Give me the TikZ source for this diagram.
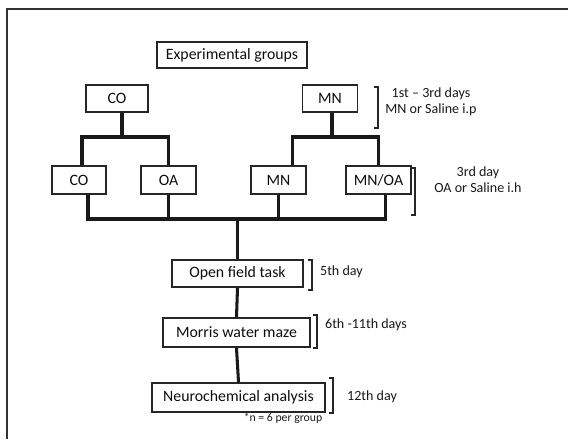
\documentclass[tikz,border=0pt]{standalone}
\usepackage{fontspec}
\setmainfont{Carlito}
\usepackage{xcolor}
\usepackage{tikz}
\usetikzlibrary{
    calc,
    positioning
}

\begin{document}
\begin{tikzpicture}[
    x=0.03cm, y=-0.03cm,
    box/.style={
        rectangle,
        draw=black!85,
        line width=1.6pt,
        inner sep=0pt,
        minimum height=0.82cm,
        font=\fontsize{13.5}{15}\selectfont,
        text=black!95
    },
    link/.style={line width=2.6pt, draw=black!90},
    brace/.style={line width=1.2pt, draw=black!85},
    note/.style={font=\fontsize{12}{13.5}\selectfont, text=black!90, align=center}
]

\useasboundingbox (0,0) rectangle (568,439);

% Frame
\draw[line width=1.7pt, black!80] (568,9) -- (7,9) -- (7,439);

% Title
\node[box, minimum width=4.5cm, minimum height=0.78cm] (groups) at (232,55) {Experimental groups};

% First treatment
\node[box, minimum width=1.86cm] (co1) at (117,98.5) {CO};
\node[box, minimum width=1.65cm] (mn1) at (330,98.5) {MN};

% Second treatment
\node[box, minimum width=1.62cm, minimum height=0.84cm] (coA) at (79,180) {CO};
\node[box, minimum width=1.65cm, minimum height=0.84cm] (oaA) at (168.5,180) {OA};
\node[box, minimum width=1.65cm, minimum height=0.84cm] (mnA) at (278.5,180) {MN};
\node[box, minimum width=1.95cm, minimum height=0.84cm] (mnoaA) at (378.5,180) {MN/OA};

% Tests
\node[box, minimum width=3.93cm] (open) at (237.5,273.5) {Open field task};
\node[box, minimum width=4.41cm, minimum height=0.87cm] (morris) at (236.5,332.5) {Morris water maze};
\node[box, minimum width=5.19cm, minimum height=0.87cm] (neuro) at (238.5,397.5) {Neurochemical analysis};

% Bars and line ends
\coordinate (bar1) at (0,137);
\coordinate (bar2) at (0,219);
\coordinate (co1out) at ($(co1.south)+(5,0)$);
\coordinate (mn1out) at ($(mn1.south)+(2,0)$);
\coordinate (coAin) at ($(coA.north)+(3,0)$);
\coordinate (mnAin) at ($(mnA.north)+(14,0)$);
\coordinate (coAout) at ($(coA.south)+(9,0)$);
\coordinate (mnoaAout) at ($(mnoaA.south)+(7,0)$);

% Tree lines
\draw[link] (co1out) -- (co1out |- bar1);
\draw[link] (coAin) -- (coAin |- bar1) -- (oaA.north |- bar1) -- (oaA.north);
\draw[link] (mn1out) -- (mn1out |- bar1);
\draw[link] (mnAin) -- (mnAin |- bar1) -- (mnoaA.north |- bar1) -- (mnoaA.north);
\draw[link] (coAout) -- (coAout |- bar2) -- (mnoaAout |- bar2) -- (mnoaAout);
\draw[link] (oaA.south) -- (oaA.south |- bar2);
\draw[link] (mnA.south) -- (mnA.south |- bar2);
\draw[link] (open.north |- bar2) -- (open.north);
\draw[link] (open.south) -- (morris.north);
\draw[link] (morris.south) -- (neuro.north);

% Brackets
\draw[brace] (374,87) -- (378,87) -- (378,128) -- (374,128);
\draw[brace] (411,168) -- (415,168) -- (415,215) -- (411,215);
\draw[brace] (308,260) -- (312,260) -- (312,290) -- (308,290);
\draw[brace] (313,315) -- (317,315) -- (317,348) -- (313,348);
\draw[brace] (329,378) -- (333,378) -- (333,413) -- (329,413);

% Day labels
\node[note] (d1) at (431,102) {1st -- 3rd days\\MN or Saline i.p};
\node[note] (d2) at (478,180) {3rd day\\OA or Saline i.h};
\node[note, anchor=west] (d3) at (316,272) {5th day};
\node[note, anchor=west] (d4) at (321,325) {6th -11th days};
\node[note, anchor=west] (d5) at (343,397) {12th day};
\node[note, font=\fontsize{10}{11}\selectfont] (ngroup) at (283,418) {*n = 6 per group};

\end{tikzpicture}
\end{document}
